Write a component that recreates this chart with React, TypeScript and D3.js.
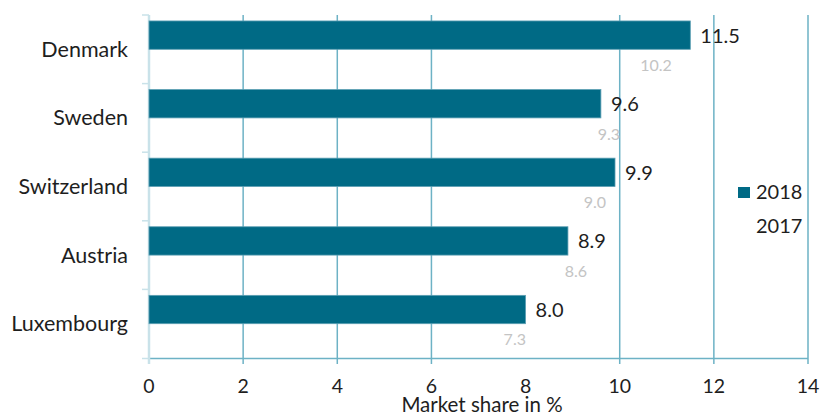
import React from "react";
import * as d3 from "d3";

const categories = ["Denmark", "Sweden", "Switzerland", "Austria", "Luxembourg"];
const values2018 = [11.5, 9.6, 9.9, 8.9, 8.0];
const values2017 = [10.2, 9.3, 9.0, 8.6, 7.3];
const xTicks = [0, 2, 4, 6, 8, 10, 12, 14];
const gridTicks = [2, 4, 6, 10, 12, 14];
const seriesNames = ["2018", "2017"];

const W = 822;
const H = 417;
const FONT = "Lato, 'Open Sans', sans-serif";

export default function App() {
  const x = d3.scaleLinear().domain([0, 14]).range([149, 808]);
  const y = d3.scaleBand<string>().domain(categories).range([15, 358]);
  const sub = d3
    .scaleBand<string>()
    .domain(seriesNames)
    .range([0, y.bandwidth()])
    .paddingOuter(0.21)
    .paddingInner(0);

  const barColor = "#006a85";
  const gridColor = "#6db2c5";
  const lightAxis = "#c9e2e9";

  return (
    <svg
      width={W}
      height={H}
      style={{ position: "absolute", left: 0, top: 0, background: "#fff" }}
      fontFamily={FONT}
    >
      {/* 2017 bars (white, invisible) */}
      {categories.map((c, i) => (
        <rect
          key={"b17" + c}
          x={x(0)}
          y={y(c)! + sub("2017")!}
          width={x(values2017[i]) - x(0)}
          height={sub.bandwidth()}
          fill="none"
        />
      ))}
      {/* gridlines */}
      {gridTicks.map((t) => (
        <line
          key={"g" + t}
          x1={x(t)}
          x2={x(t)}
          y1={15}
          y2={364}
          stroke={gridColor}
          strokeWidth={1.5}
        />
      ))}
      {/* bottom axis */}
      <line x1={x(0)} x2={x(14)} y1={358.5} y2={358.5} stroke={gridColor} strokeWidth={1.5} />
      {/* left axis */}
      <line x1={x(0)} x2={x(0)} y1={15} y2={364} stroke={lightAxis} strokeWidth={2.5} />
      {/* left ticks at band boundaries */}
      {categories.map((c) => (
        <line
          key={"yt" + c}
          x1={142}
          x2={x(0)}
          y1={y(c)!}
          y2={y(c)!}
          stroke={lightAxis}
          strokeWidth={1.5}
        />
      ))}
      <line x1={142} x2={x(0)} y1={358.5} y2={358.5} stroke={lightAxis} strokeWidth={1.5} />

      {/* 2018 bars and labels */}
      {categories.map((c, i) => {
        const y0 = y(c)!;
        const yb18 = y0 + sub("2018")!;
        const yb17 = y0 + sub("2017")!;
        const h = sub.bandwidth();
        return (
          <g key={"b" + c}>
            <rect
              x={x(0)}
              y={yb18}
              width={x(values2018[i]) - x(0)}
              height={h}
              fill={barColor}
              stroke="#5c9fb3"
              strokeWidth={0.8}
            />
            <text
              x={x(values2018[i]) + 10}
              y={yb18 + h / 2 + 7.5}
              fontSize={20}
              fill="#1e1e1e"
            >
              {values2018[i].toFixed(1)}
            </text>
            <text
              x={x(values2017[i]) + 11}
              y={yb17 + h / 2 + 7.5}
              fontSize={16}
              fill="#c4c4c4"
            >
              {values2017[i].toFixed(1)}
            </text>
            <text
              x={128}
              y={y0 + y.bandwidth() / 2 + 7.5}
              fontSize={21.5}
              textAnchor="end"
              fill="#1e1e1e"
            >
              {c}
            </text>
          </g>
        );
      })}

      {/* x tick labels */}
      {xTicks.map((t) => (
        <text
          key={"xl" + t}
          x={x(t)}
          y={393}
          fontSize={19.5}
          textAnchor="middle"
          fill="#1e1e1e"
        >
          {t}
        </text>
      ))}
      <text x={482} y={412} fontSize={20.5} textAnchor="middle" fill="#1e1e1e">
        Market share in %
      </text>

      {/* legend */}
      <rect x={738} y={187} width={12} height={11} fill={barColor} />
      <text x={756} y={199} fontSize={20} fill="#1e1e1e">
        {seriesNames[0]}
      </text>
      <rect x={738} y={221} width={12} height={11} fill="#ffffff" />
      <text x={756} y={233} fontSize={20} fill="#1e1e1e">
        {seriesNames[1]}
      </text>
    </svg>
  );
}
